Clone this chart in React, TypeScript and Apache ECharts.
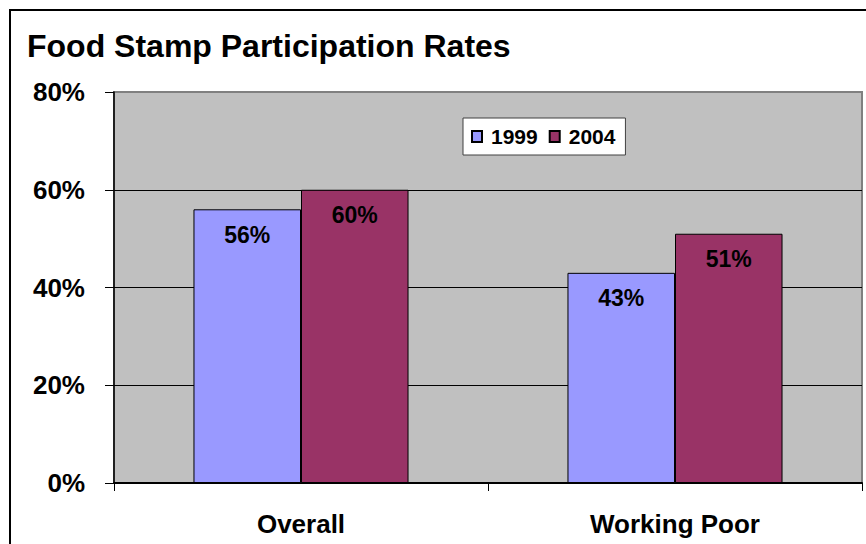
import React, { useEffect, useRef } from "react";
import * as echarts from "echarts";

const categories = ["Overall", "Working Poor"];
const series1999 = [56, 43];
const series2004 = [60, 51];
const seriesNames = ["1999", "2004"];
const yTicks = [0, 20, 40, 60, 80];
const titleText = "Food Stamp Participation Rates";

const FONT = "'Liberation Sans', Arial, sans-serif";

export default function App() {
  const ref = useRef<HTMLDivElement>(null);
  useEffect(() => {
    if (!ref.current) return;
    const chart = echarts.init(ref.current, undefined, { renderer: "svg" });
    const labelCfg = {
      show: true,
      position: "insideTop",
      distance: 14,
      formatter: (p: any) => `${p.value}%`,
      color: "#000",
      fontFamily: FONT,
      fontWeight: "bold",
      fontSize: 23,
    };
    chart.setOption({
      animation: false,
      backgroundColor: "#fff",
      title: {
        text: titleText,
        left: 22,
        top: 25,
        textStyle: { fontFamily: FONT, fontWeight: "bold", fontSize: 32, color: "#000" },
      },
      legend: {
        left: 463,
        top: 118,
        data: seriesNames,
        backgroundColor: "#fff",
        borderColor: "#404040",
        borderWidth: 1,
        padding: [8, 10, 8, 8],
        itemWidth: 10,
        itemHeight: 11,
        itemGap: 11,
        icon: "rect",
        textStyle: { fontFamily: FONT, fontWeight: "bold", fontSize: 21, color: "#000", padding: [0, 0, 0, 4] },
      },
      grid: {
        left: 114,
        right: 4,
        top: 92,
        bottom: 61,
        show: true,
        backgroundColor: "#C0C0C0",
        borderColor: "#808080",
        borderWidth: 2,
      },
      xAxis: {
        type: "category",
        data: categories,
        axisLine: { show: true, lineStyle: { color: "#000", width: 2 } },
        axisTick: { show: true, length: 8, interval: 0, alignWithLabel: false, lineStyle: { color: "#000" } },
        axisLabel: { margin: 28, fontFamily: FONT, fontWeight: "bold", fontSize: 26, color: "#000" },
      },
      yAxis: {
        type: "value",
        min: yTicks[0],
        max: yTicks[yTicks.length - 1],
        interval: 20,
        axisLine: { show: true, lineStyle: { color: "#000", width: 1.5 } },
        axisTick: { show: true, length: 9, lineStyle: { color: "#000" } },
        axisLabel: {
          margin: 29,
          formatter: (v: number) => `${v}%`,
          fontFamily: FONT,
          fontWeight: "bold",
          fontSize: 26,
          color: "#000",
        },
        splitLine: { show: true, showMaxLine: false, showMinLine: false, lineStyle: { color: "#000", width: 1 } },
      },
      series: [
        {
          name: seriesNames[0],
          type: "bar",
          data: series1999,
          barGap: "0%",
          barCategoryGap: "42.5%",
          itemStyle: { color: "#9999FF", borderColor: "#000", borderWidth: 1 },
          label: labelCfg,
        },
        {
          name: seriesNames[1],
          type: "bar",
          data: series2004,
          barGap: "0%",
          barCategoryGap: "42.5%",
          itemStyle: { color: "#993366", borderColor: "#000", borderWidth: 1 },
          label: labelCfg,
        },
      ],
      graphic: [
        {
          type: "rect",
          shape: { x: 10, y: 10, width: 900, height: 600 },
          style: { fill: "none", stroke: "#000", lineWidth: 2 },
          silent: true,
          z: 100,
        },
      ],
    });
    return () => chart.dispose();
  }, []);
  return (
    <div
      ref={ref}
      style={{ position: "absolute", left: 0, top: 0, width: 866, height: 544 }}
    />
  );
}
